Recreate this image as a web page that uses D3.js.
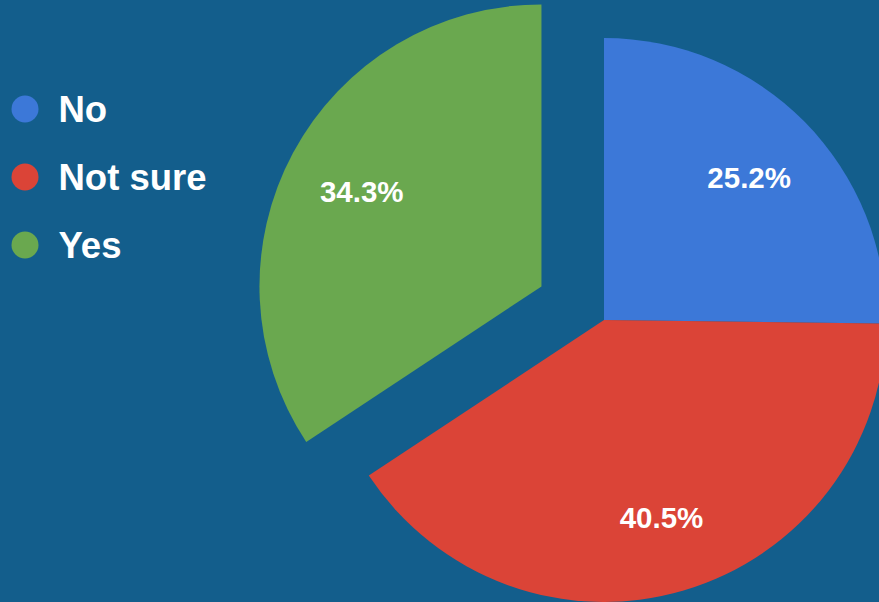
<!DOCTYPE html>
<html>
<head>
<meta charset="utf-8">
<script src="https://cdn.jsdelivr.net/npm/d3@7"></script>
<style>
  html, body { margin: 0; padding: 0; background: #135e8c; overflow: hidden; }
  svg { display: block; }
</style>
</head>
<body>
<div id="chart"></div>
<script>
// Data
const categories = ["No", "Not sure", "Yes"];
const values = [25.2, 40.5, 34.3];
const labels = ["25.2%", "40.5%", "34.3%"];
const exploded = [false, false, true];

const colors = d3.scaleOrdinal()
  .domain(categories)
  .range(["#3c78d8", "#db4437", "#6aa84f"]);

const width = 879, height = 602;
const cx = 604, cy = 320, radius = 282;
const explodeOffset = 71;

const svg = d3.select("#chart")
  .append("svg")
  .attr("width", width)
  .attr("height", height);

svg.append("rect")
  .attr("width", width)
  .attr("height", height)
  .attr("fill", "#135e8c");

const pie = d3.pie().sort(null).value((d) => d.value);
const arcs = pie(categories.map((c, i) => ({ name: c, value: values[i], label: labels[i], exploded: exploded[i] })));

const arc = d3.arc().innerRadius(0).outerRadius(radius);
const labelArc = d3.arc().innerRadius(204).outerRadius(204);

const g = svg.append("g").attr("transform", `translate(${cx},${cy})`);

const slice = g.selectAll(".slice")
  .data(arcs)
  .join("g")
  .attr("class", "slice")
  .attr("transform", (d) => {
    if (!d.data.exploded) return null;
    const mid = (d.startAngle + d.endAngle) / 2;
    return `translate(${Math.sin(mid) * explodeOffset},${-Math.cos(mid) * explodeOffset})`;
  });

slice.append("path")
  .attr("d", arc)
  .attr("fill", (d) => colors(d.data.name));

slice.append("text")
  .attr("transform", (d) => `translate(${labelArc.centroid(d)})`)
  .attr("text-anchor", "middle")
  .attr("dy", "0.4em")
  .attr("fill", "#ffffff")
  .attr("font-family", "Liberation Sans, Arial, sans-serif")
  .attr("font-weight", "bold")
  .attr("font-size", 29.5)
  .text((d) => d.data.label);

// Legend
const legend = svg.append("g").attr("transform", "translate(0,109)");

const item = legend.selectAll(".item")
  .data(categories)
  .join("g")
  .attr("class", "item")
  .attr("transform", (d, i) => `translate(0,${i * 68})`);

item.append("circle")
  .attr("cx", 25)
  .attr("cy", 0)
  .attr("r", 13.5)
  .attr("fill", (d) => colors(d));

item.append("text")
  .attr("x", 58.5)
  .attr("y", 13)
  .attr("fill", "#ffffff")
  .attr("font-family", "Liberation Sans, Arial, sans-serif")
  .attr("font-weight", "bold")
  .attr("font-size", 36.5)
  .text((d) => d);
</script>
</body>
</html>
